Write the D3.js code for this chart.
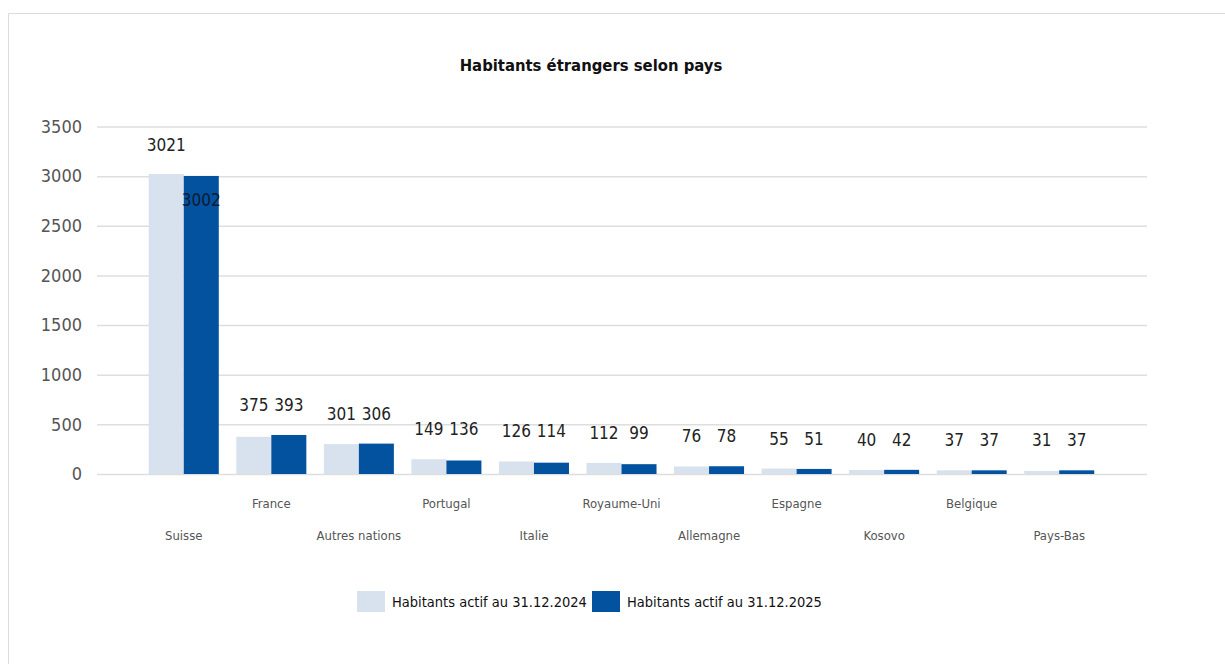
<!DOCTYPE html>
<html>
<head>
<meta charset="utf-8">
<script src="https://cdn.jsdelivr.net/npm/d3@7"></script>
<style>
  body { margin: 0; background: #fff; }
  svg { display: block; }
  text { font-family: 'DejaVu Sans', sans-serif; font-stretch: condensed; }
</style>
</head>
<body>
<div id="container"></div>
<script>
// data
let countries = ["Suisse", "France", "Autres nations", "Portugal", "Italie", "Royaume-Uni",
  "Allemagne", "Espagne", "Kosovo", "Belgique", "Pays-Bas"];
let values_2024 = [3021, 375, 301, 149, 126, 112, 76, 55, 40, 37, 31];
let values_2025 = [3002, 393, 306, 136, 114, 99, 78, 51, 42, 37, 37];
let series_names = ["Habitants actif au 31.12.2024", "Habitants actif au 31.12.2025"];
let y_ticks = [0, 500, 1000, 1500, 2000, 2500, 3000, 3500];

let width = 1225;
let height = 664;
let colors = ["#d7e2ee", "#03529f"];

let svg = d3.select("#container")
  .append("svg")
  .attr("width", width)
  .attr("height", height);

// frame
svg.append("path")
  .attr("d", "M8.5," + height + "V13.5H" + width)
  .attr("fill", "none")
  .attr("stroke", "#dcdcdc");

svg.append("text")
  .attr("x", 591)
  .attr("y", 71)
  .attr("text-anchor", "middle")
  .attr("font-weight", "bold")
  .attr("font-size", 16.5)
  .attr("fill", "#111")
  .text("Habitants étrangers selon pays");

let y = d3.scaleLinear().domain([0, 3500]).range([474, 126.5]);
let x = d3.scaleBand().domain(countries).range([140, 1103]).paddingInner(0.2).paddingOuter(0.1);
let xs = d3.scaleBand().domain([0, 1]).range([0, x.bandwidth()]);

// grid
svg.append("g")
  .attr("transform", "translate(97,0)")
  .call(d3.axisLeft(y).tickValues(y_ticks).tickSize(-1050).tickPadding(15).tickFormat(d3.format("d")))
  .call(g => g.select(".domain").remove())
  .call(g => g.selectAll(".tick line").attr("stroke", "#dedede").attr("stroke-width", 1.5))
  .call(g => g.selectAll(".tick text")
    .attr("font-family", null)
    .attr("font-size", 18)
    .attr("fill", "#555"));

let groups = countries.map((c, i) => ({ name: c, vals: [values_2024[i], values_2025[i]] }));

let g = svg.selectAll(".group")
  .data(groups)
  .enter()
  .append("g")
  .attr("class", "group")
  .attr("transform", d => "translate(" + x(d.name) + ",0)");

g.selectAll("rect")
  .data(d => d.vals)
  .enter()
  .append("rect")
  .attr("x", (d, i) => xs(i))
  .attr("width", xs.bandwidth())
  .attr("y", d => y(d))
  .attr("height", d => y(0) - y(d))
  .attr("fill", (d, i) => colors[i]);

// value labels, both on one line above the higher bar; a big second label goes inside its bar
g.each(function (d) {
  let top = y(d3.max(d.vals)) - 24;
  let big = d.vals[0] >= 1000;
  d3.select(this).selectAll(".val")
    .data(d.vals)
    .enter()
    .append("text")
    .attr("class", "val")
    .attr("x", (v, i) => xs(i) + xs.bandwidth() / 2)
    .attr("y", (v, i) => (big && i == 1) ? y(v) + 30 : (big ? y(v) - 23 : top))
    .attr("text-anchor", "middle")
    .attr("font-size", 17)
    .attr("fill", (v, i) => (big && i == 1) ? "#0a1a33" : "#222")
    .text(v => v);
});

// staggered category labels
svg.selectAll(".cat")
  .data(countries)
  .enter()
  .append("text")
  .attr("class", "cat")
  .attr("x", d => x(d) + x.bandwidth() / 2)
  .attr("y", (d, i) => i % 2 == 1 ? 508 : 540)
  .attr("text-anchor", "middle")
  .attr("font-size", 13)
  .attr("fill", "#555")
  .text(d => d);

// legend
let legend_x = [357, 592];
let lg = svg.selectAll(".legend")
  .data(series_names)
  .enter()
  .append("g")
  .attr("class", "legend")
  .attr("transform", (d, i) => "translate(" + legend_x[i] + ",591)");

lg.append("rect")
  .attr("width", 28)
  .attr("height", 21)
  .attr("fill", (d, i) => colors[i]);

lg.append("text")
  .attr("x", 35)
  .attr("y", 16)
  .attr("font-size", 14.5)
  .attr("fill", "#111")
  .text(d => d);
</script>
</body>
</html>
